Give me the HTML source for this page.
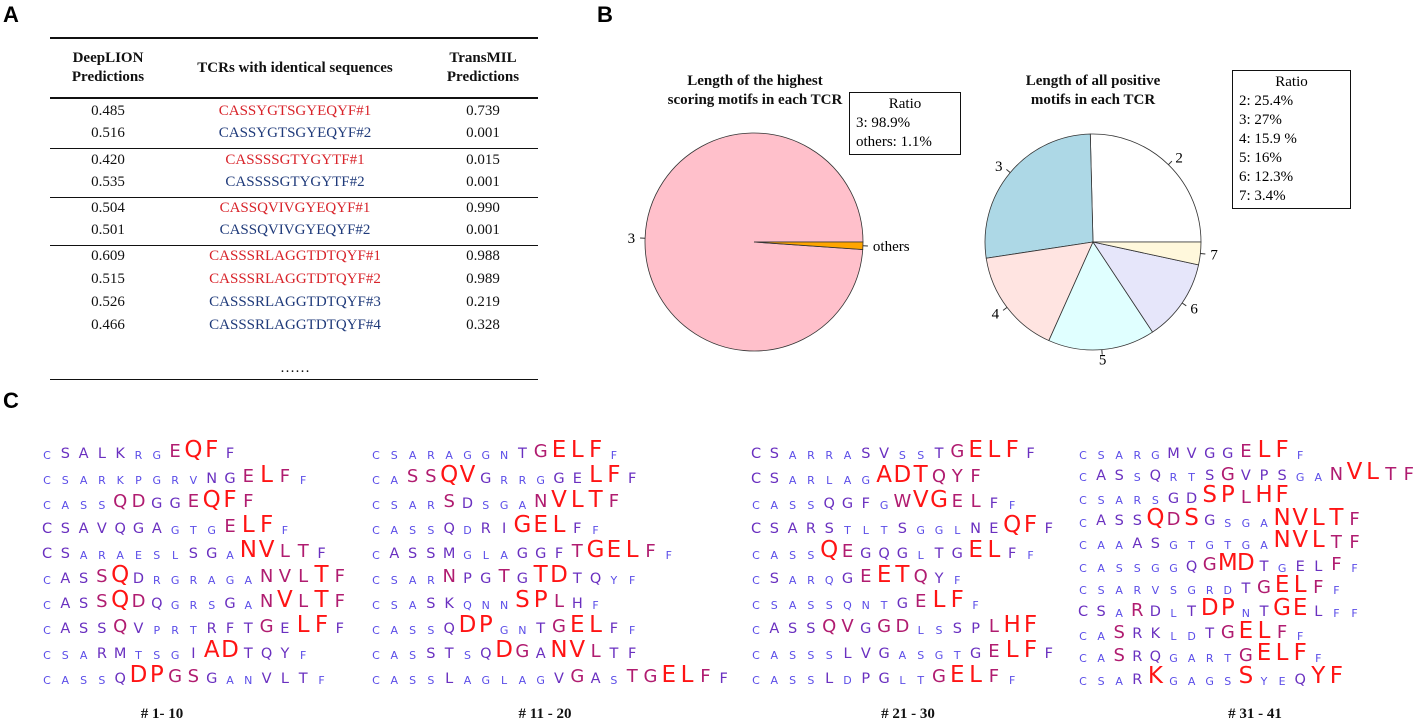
<!DOCTYPE html>
<html><head><meta charset="utf-8">
<style>
body{margin:0;width:1416px;height:726px;background:#fff;position:relative;overflow:hidden;font-family:"Liberation Serif",serif}
.abs{position:absolute}
.pl{font-family:"Liberation Sans",sans-serif;font-weight:bold;font-size:22px}
.c{position:absolute;transform:translateX(-50%);white-space:nowrap;font-size:15px;color:#111}
.hd{font-weight:bold;text-align:center;line-height:19px}
.ln{position:absolute;left:50px;width:488px;background:#111}
.lt{position:absolute;font-family:"DejaVu Sans",sans-serif;transform:translateX(-50%);line-height:1}
.red{color:#d8232a}.blue{color:#1f3a7a}
.box{position:absolute;border:1.5px solid #111;font-size:15px;line-height:19px;padding:2px 6px}
</style></head><body>
<div class="abs pl" style="left:3px;top:2px">A</div>
<div class="abs pl" style="left:597px;top:2px">B</div>
<div class="abs pl" style="left:3px;top:388px">C</div>

<div>
<div class="ln" style="top:37px;height:2px"></div>
<div class="ln" style="top:97px;height:2px"></div>
<div class="ln" style="top:148px;height:1px"></div>
<div class="ln" style="top:197px;height:1px"></div>
<div class="ln" style="top:245px;height:1px"></div>
<div class="ln" style="top:379px;height:1px"></div>
<div class="c hd" style="left:108px;top:49px">DeepLION<br>Predictions</div>
<div class="c hd" style="left:295px;top:59px">TCRs with identical sequences</div>
<div class="c hd" style="left:483px;top:49px">TransMIL<br>Predictions</div>
<div id="rows"></div>
<div class="c" style="left:295px;top:360px">……</div>
</div>

<svg class="abs" style="left:0;top:0" width="1416" height="400" id="pies"></svg>
<div class="c hd" style="left:755px;top:72px;font-size:15px">Length of the highest<br>scoring motifs in each TCR</div>
<div class="c hd" style="left:1093px;top:72px;font-size:15px">Length of all positive<br>motifs in each TCR</div>
<div class="box" style="left:849px;top:92px;width:98px"><div style="text-align:center">Ratio</div>3: 98.9%<br>others: 1.1%</div>
<div class="box" style="left:1232px;top:70px;width:105px"><div style="text-align:center">Ratio</div>2: 25.4%<br>3: 27%<br>4: 15.9 %<br>5: 16%<br>6: 12.3%<br>7: 3.4%</div>

<div id="logo"></div>
<div class="c hd" style="left:162px;top:705px"># 1- 10</div>
<div class="c hd" style="left:545px;top:705px"># 11 - 20</div>
<div class="c hd" style="left:908px;top:705px"># 21 - 30</div>
<div class="c hd" style="left:1255px;top:705px"># 31 - 41</div>

<script>
const deeplion=["0.485","0.516","0.420","0.535","0.504","0.501","0.609","0.515","0.526","0.466"];
const tcrs=["CASSYGTSGYEQYF#1","CASSYGTSGYEQYF#2","CASSSSGTYGYTF#1","CASSSSGTYGYTF#2","CASSQVIVGYEQYF#1","CASSQVIVGYEQYF#2","CASSSRLAGGTDTQYF#1","CASSSRLAGGTDTQYF#2","CASSSRLAGGTDTQYF#3","CASSSRLAGGTDTQYF#4"];
const tcrRed=[1,0,1,0,1,0,1,1,0,0];
const transmil=["0.739","0.001","0.015","0.001","0.990","0.001","0.988","0.989","0.219","0.328"];
const rowY=[103,125,152,174,200,222,248,271,294,317];
const rows=document.getElementById('rows');
deeplion.forEach((v,i)=>{
  const cells=[[108,v,''],[295,tcrs[i],tcrRed[i]?'red':'blue'],[483,transmil[i],'']];
  cells.forEach((c,j)=>{
    const d=document.createElement('div');
    d.className='c '+c[2];d.style.left=c[0]+'px';d.style.top=rowY[i]+'px';d.textContent=c[1];
    
    
    rows.appendChild(d);
  });
});

const leftLabels=["3","others"];
const leftValues=[98.9,1.1];
const leftColors=["#ffc0cb","#ffa500"];
const rightLabels=["2","3","4","5","6","7"];
const rightValues=[25.4,27,15.9,16,12.3,3.4];
const rightColors=["#ffffff","#add8e6","#ffe4e1","#e0ffff","#e6e6fa","#fff8dc"];
const NS='http://www.w3.org/2000/svg';
const svg=document.getElementById('pies');
function pie(cx,cy,r,labels,values,colors,nm){
  const tot=values.reduce((a,b)=>a+b,0);let a0=0;
  values.forEach((v,i)=>{
    const a1=a0+v/tot*2*Math.PI;
    const x0=cx+r*Math.cos(a0),y0=cy-r*Math.sin(a0),x1=cx+r*Math.cos(a1),y1=cy-r*Math.sin(a1);
    const p=document.createElementNS(NS,'path');
    p.setAttribute('d',`M${cx},${cy}L${x0},${y0}A${r},${r} 0 ${a1-a0>Math.PI?1:0} 0 ${x1},${y1}Z`);
    p.setAttribute('fill',colors[i]);p.setAttribute('stroke','#333');p.setAttribute('stroke-width','0.8');
    
    
    svg.appendChild(p);
    const am=(a0+a1)/2;
    const l=document.createElementNS(NS,'line');
    l.setAttribute('x1',cx+r*Math.cos(am));l.setAttribute('y1',cy-r*Math.sin(am));
    l.setAttribute('x2',cx+(r+5)*Math.cos(am));l.setAttribute('y2',cy-(r+5)*Math.sin(am));
    l.setAttribute('stroke','#333');svg.appendChild(l);
    const t=document.createElementNS(NS,'text');
    const tx=cx+(r+10)*Math.cos(am),ty=cy-(r+10)*Math.sin(am);
    t.setAttribute('x',tx);t.setAttribute('y',ty+5);
    t.setAttribute('text-anchor',Math.cos(am)>0.3?'start':(Math.cos(am)<-0.3?'end':'middle'));
    t.setAttribute('font-family','Liberation Serif');t.setAttribute('font-size','15');
    t.textContent=labels[i];
    
    
    svg.appendChild(t);
    a0=a1;
  });
}
pie(754,242,109,leftLabels,leftValues,leftColors,'left-pie');
pie(1093,242,108,rightLabels,rightValues,rightColors,'right-pie');

const groups=[
 [["CSALKRGEQFF","01111002331"],["CSARKPGRVNGELFF","000000000112320"],["CASSQDGGEQFF","000022112332"],["CSAVQGAGTGELFF","11111110002330"],["CSARAESLSGANVLTF","1100000011033221"],["CASSQDRGRAGANVLTF","01123100000022232"],["CASSQDQGRSGANVLTF","01123210001023232"],["CASSQVPRTRFTGELFF","01112100011121331"],["CSARMTSGIADTQYF","000110001331110"],["CASSQDPGSGANVLTF","0000133221001110"]],
 [["CSARAGGNTGELFF","00000000123330"],["CASSQVGRRGGELFF","002233100011331"],["CSARSDSGANVLTF","00002100023332"],["CASSQDRIGELFF","0000101133310"],["CASSMGLAGGFTGELFF","01111000111233320"],["CSARNPGTGTDTQYF","000021121331100"],["CSASKQNNSPLHF","0001100033210"],["CASSQDPGNTGELFF","000013300123310"],["CASSTSQDGANVLTF","000110132133211"],["CASSLAGLAGVGASTGELFF","00001000001210223321"]],
 [["CSARRASVSSTGELFF","1100001100123331"],["CSARLAGADTQYF","1100000333222"],["CASSQGFGWVGELFF","000011102332210"],["CSARSTLTSGGLNEQFF","11111000100011331"],["CASSQEGQGLTGELFF","0000321110113310"],["CSARQGEETQYF","010001233210"],["CSASSQNTGELFF","0000000012330"],["CASSQVGGDLSSPLHF","0111221220011233"],["CASSSLVGASGTGELFF","00000111000012331"],["CASSLDPGLTGELFF","000010110023320"]],
 [["CSARGMVGGELFF","0000011112330"],["CASSQRTSGVPSGANVLTF","0110100121110023322"],["CSARSGDSPLHF","000001133233"],["CASSQDSGSGANVLTF","0111323100033332"],["CAAASGTGTGANVLTF","0001100000033322"],["CASSGGQGMDTGELFF","0000001233101120"],["CSARVSGRDTGELFF","000000000123320"],["CSARDLTDPNTGELFF","1102101330133100"],["CASRKLDTGELFF","0021100123320"],["CASRQGARTGELFF","00211000023330"],["CSARKGAGSSYEQYF","000130000300133"]]
];
const groupX=[47,376,756,1083];
const pitch=[18.3,18.3,18.3,18.1];
const sizes=[11,14.5,18,23];
const cols=["#5a4ce8","#6a30c0","#b01c70","#ff1414"];
const logo=document.getElementById('logo');
groups.forEach((g,gi)=>{
  const step=g.length>10?22.6:25;
  g.forEach((s,ri)=>{
    const base=460+ri*step;
    for(let k=0;k<s[0].length;k++){
      const w=+s[1][k];
      const d=document.createElement('div');
      d.className='lt';
      d.style.left=(groupX[gi]+k*pitch[gi])+'px';
      d.style.top=(base-sizes[w]*0.92)+'px';
      d.style.fontSize=sizes[w]+'px';
      d.style.color=cols[w];
      d.textContent=s[0][k];
      
      
      logo.appendChild(d);
    }
  });
});
</script>
</body></html>
